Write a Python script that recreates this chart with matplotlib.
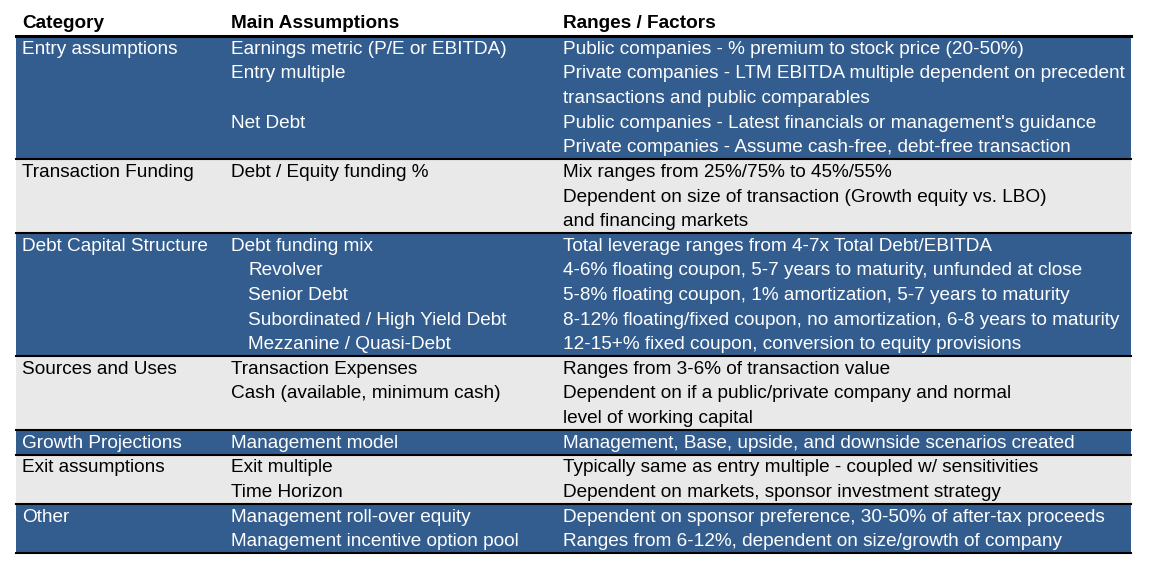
import matplotlib.pyplot as plt
from matplotlib.patches import Rectangle

# table content, one entry per text line
categories = ["Entry assumptions", "Transaction Funding", "Debt Capital Structure",
              "Sources and Uses", "Growth Projections", "Exit assumptions", "Other"]

assumptions = [
    ["Earnings metric (P/E or EBITDA)", "Entry multiple", "", "Net Debt", ""],
    ["Debt / Equity funding %", "", ""],
    ["Debt funding mix", "  Revolver", "  Senior Debt",
     "  Subordinated / High Yield Debt", "  Mezzanine / Quasi-Debt"],
    ["Transaction Expenses", "Cash (available, minimum cash)", ""],
    ["Management model"],
    ["Exit multiple", "Time Horizon"],
    ["Management roll-over equity", "Management incentive option pool"],
]

ranges = [
    ["Public companies - % premium to stock price (20-50%)",
     "Private companies - LTM EBITDA multiple dependent on precedent",
     "transactions and public comparables",
     "Public companies - Latest financials or management's guidance",
     "Private companies - Assume cash-free, debt-free transaction"],
    ["Mix ranges from 25%/75% to 45%/55%",
     "Dependent on size of transaction (Growth equity vs. LBO)",
     "and financing markets"],
    ["Total leverage ranges from 4-7x Total Debt/EBITDA",
     "4-6% floating coupon, 5-7 years to maturity, unfunded at close",
     "5-8% floating coupon, 1% amortization, 5-7 years to maturity",
     "8-12% floating/fixed coupon, no amortization, 6-8 years to maturity",
     "12-15+% fixed coupon, conversion to equity provisions"],
    ["Ranges from 3-6% of transaction value",
     "Dependent on if a public/private company and normal",
     "level of working capital"],
    ["Management, Base, upside, and downside scenarios created"],
    ["Typically same as entry multiple - coupled w/ sensitivities",
     "Dependent on markets, sponsor investment strategy"],
    ["Dependent on sponsor preference, 30-50% of after-tax proceeds",
     "Ranges from 6-12%, dependent on size/growth of company"],
]

headers = ["Category", "Main Assumptions", "Ranges / Factors"]

BLUE = '#335d8f'
GRAY = '#e9e9e9'

plt.rcParams['font.family'] = ['Liberation Sans', 'DejaVu Sans']

fig = plt.figure(figsize=(11.56, 5.71), dpi=100)
ax = fig.add_axes([0, 0, 1, 1])
ax.set_xlim(0, 1156)
ax.set_ylim(571, 0)
ax.axis('off')

left, right = 16, 1131
col_x = [22, 231, 563]
top = 36
line_h = 24.62
fs = 13.65

for x, h in zip(col_x, headers):
    ax.text(x, 23.5, h, fontsize=fs, fontweight='bold', va='center', ha='left', color='black')

y = top
for i, cat in enumerate(categories):
    n = len(ranges[i])
    bg = BLUE if i % 2 == 0 else GRAY
    fg = 'white' if i % 2 == 0 else 'black'
    ax.add_patch(Rectangle((left, y), right - left, n * line_h, facecolor=bg, edgecolor='none', zorder=0))
    ax.text(col_x[0], y + 0.5 * line_h + 1, cat, fontsize=fs, color=fg, va='center', ha='left')
    for j in range(n):
        cy = y + (j + 0.5) * line_h + 1
        a = assumptions[i][j]
        indent = 17 if a.startswith(' ') else 0
        ax.text(col_x[1] + indent, cy, a.strip(), fontsize=fs, color=fg, va='center', ha='left')
        ax.text(col_x[2], cy, ranges[i][j], fontsize=fs, color=fg, va='center', ha='left')
    ax.plot([left, right], [y, y], color='black', lw=1.5 if i else 2.2, zorder=3)
    y += n * line_h

ax.plot([left, right], [y, y], color='black', lw=1.5, zorder=3)

fig.savefig('out.png', dpi=100)
